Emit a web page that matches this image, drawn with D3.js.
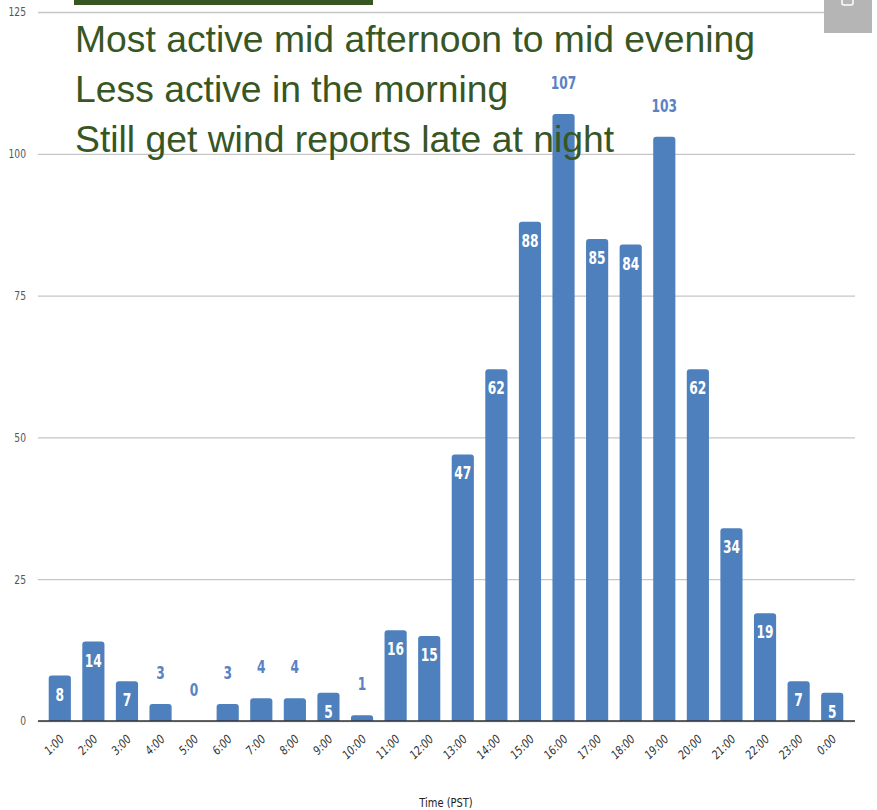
<!DOCTYPE html>
<html>
<head>
<meta charset="utf-8">
<script src="https://cdn.jsdelivr.net/npm/d3@7"></script>
<style>
  body { margin: 0; background: #fff; }
  .narrow { font-family: "Liberation Sans Narrow", "DejaVu Sans Condensed", "Arial Narrow", sans-serif; font-stretch: condensed; }
</style>
</head>
<body>
<div class="chart"></div>
<script>
var hours = ['1:00', '2:00', '3:00', '4:00', '5:00', '6:00', '7:00', '8:00', '9:00', '10:00', '11:00', '12:00',
  '13:00', '14:00', '15:00', '16:00', '17:00', '18:00', '19:00', '20:00', '21:00', '22:00', '23:00', '0:00'];
var reports = [8, 14, 7, 3, 0, 3, 4, 4, 5, 1, 16, 15, 47, 62, 88, 107, 85, 84, 103, 62, 34, 19, 7, 5];
var yTicks = [0, 25, 50, 75, 100, 125];
var notes = [
  'Most active mid afternoon to mid evening',
  'Less active in the morning',
  'Still get wind reports late at night'
];

var data = hours.map((h, i) => ({ hour: h, value: reports[i] }));

var width = 877;
var height = 810;

var svg = d3.select('.chart')
  .append('svg')
    .attr('width', width)
    .attr('height', height);

var xScale = d3.scaleBand()
  .domain(hours)
  .range([43, 849])
  .paddingInner(0.34)
  .paddingOuter(0.17);

var yScale = d3.scaleLinear()
  .domain([0, 125])
  .range([721, 12]);

// gridlines + y labels
var yAxis = svg.append('g')
  .attr('class', 'narrow')
  .attr('transform', 'translate(38, 0)')
  .call(d3.axisLeft(yScale).tickValues(yTicks).tickSize(-817).tickPadding(6));
yAxis.select('.domain').remove();
yAxis.selectAll('line').attr('stroke', '#c6c6c6').attr('stroke-width', 1.3);
yAxis.selectAll('text')
  .attr('fill', '#555')
  .style('font-size', '12px')
  .attr('transform', 'translate(-6, 0) scale(0.85, 1)')
  .attr('x', -6 / 0.85);

// bars, top corners rounded
var r = 3;
svg.append('g')
  .selectAll('path')
  .data(data.filter(d => d.value > 0))
  .enter()
  .append('path')
    .attr('fill', '#4e80bd')
    .attr('d', function (d) {
      var x0 = xScale(d.hour), x1 = x0 + xScale.bandwidth();
      var y0 = yScale(0), y1 = yScale(d.value);
      var rr = Math.min(r, (y0 - y1) / 2);
      return 'M' + x0 + ',' + y0 + 'V' + (y1 + rr) + 'Q' + x0 + ',' + y1 + ' ' + (x0 + rr) + ',' + y1 +
        'H' + (x1 - rr) + 'Q' + x1 + ',' + y1 + ' ' + x1 + ',' + (y1 + rr) + 'V' + y0 + 'Z';
    });

// baseline
svg.append('line')
  .attr('x1', 38).attr('x2', 855)
  .attr('y1', yScale(0)).attr('y2', yScale(0))
  .attr('stroke', '#333')
  .attr('stroke-width', 1.5);

// value labels
function outside(v) { return v < 5 || v > 100; }
svg.append('g')
  .attr('class', 'narrow')
  .selectAll('text')
  .data(data)
  .enter()
  .append('text')
    .attr('transform', function (d) {
      var cx = xScale(d.hour) + xScale.bandwidth() / 2;
      var y = outside(d.value) ? yScale(d.value) - 25 : yScale(d.value) + 25;
      return 'translate(' + cx + ',' + y + ') scale(0.8, 1)';
    })
    .attr('text-anchor', 'middle')
    .attr('fill', d => outside(d.value) ? '#5a82c3' : '#fff')
    .style('font-size', '17px')
    .style('font-weight', 'bold')
    .text(d => d.value);

// x labels
svg.append('g')
  .attr('class', 'narrow')
  .selectAll('text')
  .data(hours)
  .enter()
  .append('text')
    .attr('transform', d => 'translate(' + (xScale(d) + xScale.bandwidth() / 2 + 5) + ', 740) rotate(-45) scale(0.9, 1)')
    .attr('text-anchor', 'end')
    .attr('fill', '#333')
    .style('font-size', '12px')
    .style('font-style', 'italic')
    .text(d => d);

svg.append('text')
  .attr('class', 'narrow')
  .attr('transform', 'translate(446, 807) scale(0.85, 1)')
  .attr('text-anchor', 'middle')
  .attr('fill', '#222')
  .style('font-size', '13px')
  .text('Time (PST)');

// overlay notes
svg.append('rect')
  .attr('x', 74).attr('y', 0)
  .attr('width', 299).attr('height', 5)
  .attr('fill', '#375623');

svg.append('g')
  .selectAll('text')
  .data(notes)
  .enter()
  .append('text')
    .attr('x', 75)
    .attr('y', (d, i) => 52 + i * 50)
    .attr('fill', '#375623')
    .style('font-family', '"Liberation Sans", Arial, sans-serif')
    .style('font-size', '37.3px')
    .text(d => d);

// grey corner box
svg.append('rect')
  .attr('x', 824).attr('y', 0)
  .attr('width', 48).attr('height', 33)
  .attr('fill', '#b5b5b5');
svg.append('rect')
  .attr('x', 842).attr('y', -4)
  .attr('width', 11).attr('height', 9)
  .attr('rx', 2)
  .attr('fill', 'none')
  .attr('stroke', '#fff')
  .attr('stroke-width', 1.5);
</script>
</body>
</html>
